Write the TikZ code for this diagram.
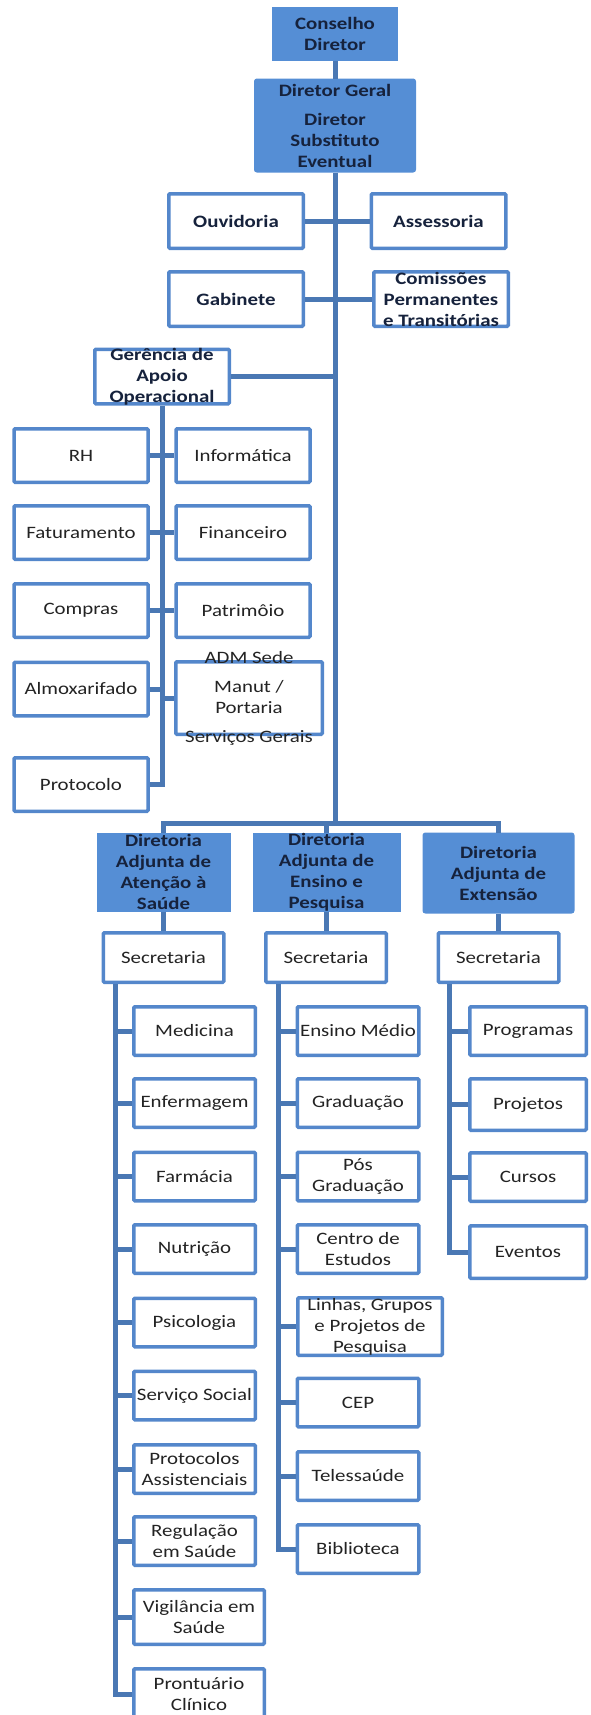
\documentclass[tikz,border=0pt]{standalone}
\usepackage{fontspec}
\setmainfont{Carlito}[FakeStretch=1.2]
\usetikzlibrary{positioning}

\definecolor{boxblue}{RGB}{85,142,213}
\definecolor{edgeblue}{RGB}{84,135,203}
\definecolor{lineblue}{RGB}{74,120,180}
\definecolor{inkgray}{RGB}{35,35,35}
\definecolor{inknavy}{RGB}{22,34,60}

\tikzset{
  head/.style={draw=boxblue, fill=boxblue, line width=1pt, align=center, inner sep=0pt, font=\bfseries, text=inknavy},
  unit/.style={draw=edgeblue, fill=white, line width=1.75pt, rounded corners=0.6pt, align=center, inner sep=0pt, text=inkgray},
  unitb/.style={unit, font=\bfseries, text=inknavy},
  link/.style={draw=lineblue, line width=2.5pt},
  inlay/.style={align=center, inner sep=0pt, text=inkgray},
  inlayb/.style={inlay, font=\bfseries, text=inknavy},
  over/.style={label={[inlay]center:#1}},
  overb/.style={label={[inlayb]center:#1}},
  big/.style={minimum width=67.25pt, minimum height=27.25pt},
  mid/.style={minimum width=67pt, minimum height=26.75pt},
  sec/.style={minimum width=60.25pt, minimum height=24.75pt},
  col/.style={minimum width=60.75pt, minimum height=24.25pt},
  colr/.style={minimum width=58.25pt, minimum height=24.25pt},
}

\begin{document}
\fontsize{8.7}{10.5}\selectfont
\begin{tikzpicture}[x=0.5pt,y=-0.5pt]
\useasboundingbox (0,0) rectangle (590,1715);

% direction
\node[head, minimum width=62pt, minimum height=26pt] (conselho) at (335,33.5) {Conselho\\Diretor};
\node[head, rounded corners=1pt, minimum width=80pt, minimum height=46pt] (geral) at (335,125.5) {Diretor Geral\\[4pt]Diretor\\Substituto\\Eventual};

\node[unitb, big] (ouvidoria) at (236,221) {Ouvidoria};
\node[unitb, big] (assessoria) at (438.5,221) {Assessoria};
\node[unitb, big] (gabinete) at (236,299) {Gabinete};
\node[unitb, big, overb={Comissões\\Permanentes\\e Transitórias}] (comissoes) at (441,299) {};

% apoio operacional
\node[unitb, big, overb={Gerência de\\Apoio\\Operacional}] (gerencia) at (162,376.5) {};
\node[unit, mid] (rh) at (81,455.5) {RH};
\node[unit, mid] (informatica) at (243,455.5) {Informática};
\node[unit, mid] (faturamento) at (81,532.5) {Faturamento};
\node[unit, mid] (financeiro) at (243,532.5) {Financeiro};
\node[unit, mid] (compras) at (81,610.5) {Compras};
\node[unit, mid] (patrimonio) at (243,610.5) {Patrimôio};
\node[unit, mid] (almoxarifado) at (81,689) {Almoxarifado};
\node[unit, minimum width=73.25pt, minimum height=36.25pt, over={ADM Sede\\[4pt]Manut /\\Portaria\\[4pt]Serviços Gerais}] (adm) at (249,698) {};
\node[unit, mid] (protocolo) at (81,784.5) {Protocolo};

% diretorias adjuntas
\node[head, minimum width=66pt, minimum height=38.5pt, overb={Diretoria\\Adjunta de\\Atenção à\\Saúde}] (dir1) at (163.5,872) {};
\node[head, minimum width=73pt, minimum height=38.5pt, overb={Diretoria\\Adjunta de\\Ensino e\\Pesquisa}] (dir2) at (326.5,872) {};
\node[head, rounded corners=1pt, minimum width=75pt, minimum height=39.5pt] (dir3) at (498.5,873) {Diretoria\\Adjunta de\\Extensão};

\node[unit, sec] (sec1) at (163.5,957.5) {Secretaria};
\node[unit, sec] (sec2) at (326,957.5) {Secretaria};
\node[unit, sec] (sec3) at (498.5,957.5) {Secretaria};

% atencao a saude
\node[unit, col] (medicina) at (194.5,1031) {Medicina};
\node[unit, col] (enfermagem) at (194.5,1103) {Enfermagem};
\node[unit, col] (farmacia) at (194.5,1176.5) {Farmácia};
\node[unit, col] (nutricao) at (194.5,1249) {Nutrição};
\node[unit, col] (psicologia) at (194.5,1322.5) {Psicologia};
\node[unit, col] (social) at (194.5,1395.5) {Serviço Social};
\node[unit, col] (protocolos) at (194.5,1469) {Protocolos\\Assistenciais};
\node[unit, col] (regulacao) at (194.5,1541) {Regulação\\em Saúde};
\node[unit, minimum width=65.25pt, minimum height=27.25pt] (vigilancia) at (199,1617) {Vigilância em\\Saúde};
\node[unit, minimum width=65.25pt, minimum height=25.75pt] (prontuario) at (199,1694.5) {Prontuário\\Clínico};

% ensino e pesquisa
\node[unit, col] (medio) at (358,1031) {Ensino Médio};
\node[unit, col] (graduacao) at (358,1103) {Graduação};
\node[unit, col] (pos) at (358,1176.5) {Pós\\Graduação};
\node[unit, col] (centro) at (358,1249) {Centro de\\Estudos};
\node[unit, minimum width=72.25pt, minimum height=28.75pt, over={Linhas, Grupos\\e Projetos de\\Pesquisa}] (linhas) at (370,1326.5) {};
\node[unit, col] (cep) at (358,1402.5) {CEP};
\node[unit, col] (telessaude) at (358,1476) {Telessaúde};
\node[unit, col] (biblioteca) at (358,1549) {Biblioteca};

% extensao
\node[unit, colr] (programas) at (528,1031) {Programas};
\node[unit, colr, minimum height=25.75pt] (projetos) at (528,1104.5) {Projetos};
\node[unit, colr] (cursos) at (528,1177) {Cursos};
\node[unit, colr, minimum height=26.25pt] (eventos) at (528,1252) {Eventos};

% connectors
\coordinate (bar) at (335,823);
\draw[link] (conselho) -- (geral);
\draw[link] (geral) -- (bar);
\draw[link] (ouvidoria) -- (assessoria);
\draw[link] (gabinete) -- (comissoes);
\draw[link] (gerencia) -- (gerencia -| bar);
\draw[link] (gerencia) |- (protocolo);
\draw[link] (rh) -- (informatica);
\draw[link] (faturamento) -- (financeiro);
\draw[link] (compras) -- (patrimonio);
\draw[link] (almoxarifado) -- (almoxarifado -| gerencia);
\draw[link] (adm) -- (adm -| gerencia);

\draw[link] (dir1) |- (bar) -| (dir3);
\draw[link] (dir2) -- (dir2 |- bar);
\draw[link] (dir1.south) -- (dir1.south |- sec1.north);
\draw[link] (dir2.south) -- (dir2.south |- sec2.north);
\draw[link] (dir3.south) -- (dir3.south |- sec3.north);

\coordinate (c1) at ([xshift=7pt]sec1.south west);
\coordinate (c2) at ([xshift=7pt]sec2.south west);
\coordinate (c3) at ([xshift=6.5pt]sec3.south west);
\draw[link] (c1) |- (prontuario);
\draw[link] (c2) |- (biblioteca);
\draw[link] (c3) |- (eventos);
\foreach \n in {medicina,enfermagem,farmacia,nutricao,psicologia,social,protocolos,regulacao,vigilancia}
  \draw[link] (\n) -- (\n -| c1);
\foreach \n in {medio,graduacao,pos,centro,linhas,cep,telessaude}
  \draw[link] (\n) -- (\n -| c2);
\foreach \n in {programas,projetos,cursos}
  \draw[link] (\n) -- (\n -| c3);
\end{tikzpicture}
\end{document}
